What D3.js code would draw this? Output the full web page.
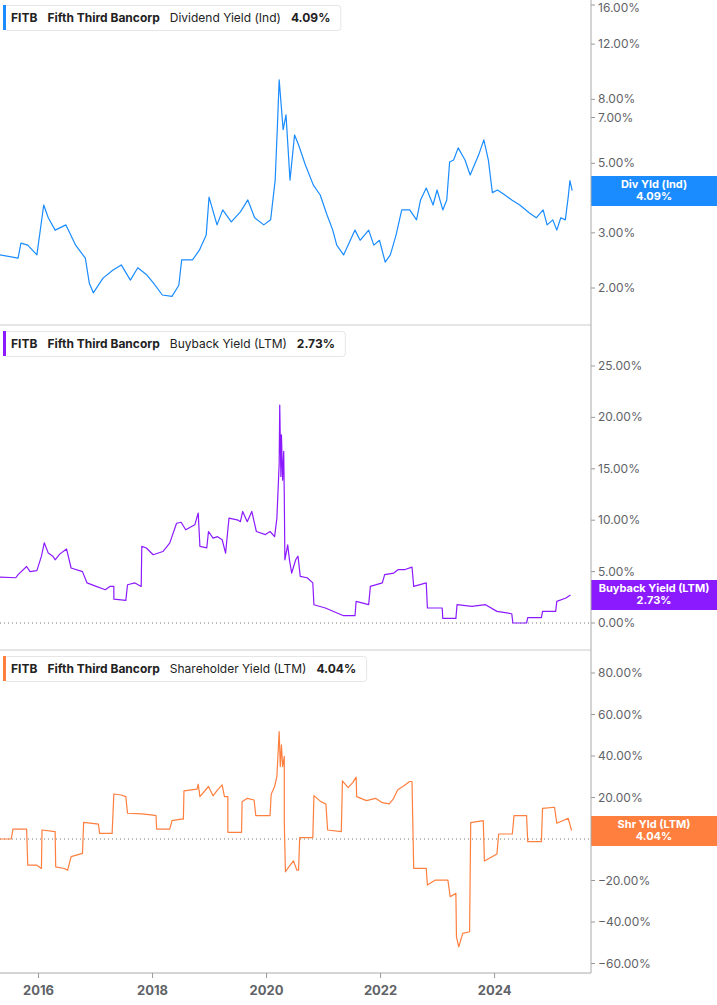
<!DOCTYPE html>
<html><head><meta charset="utf-8">
<script src="https://cdn.jsdelivr.net/npm/d3@7"></script>
<style>body{margin:0;background:#fff}svg{font-family:Inter,"Noto Sans",sans-serif}</style>
</head><body><svg id="chart" width="717" height="1005"></svg>
<script>
const yearTicks = [2016, 2018, 2020, 2022, 2024];
const divTicks = [2, 3, 5, 7, 8, 12, 16];
const buyTicks = [0, 5, 10, 15, 20, 25];
const shrTicks = [-60, -40, -20, 0, 20, 40, 60, 80];

const divYield = [
  [2015.33,2.55],[2015.65,2.49],[2015.70,2.78],[2015.82,2.74],[2015.98,2.55],[2016.10,3.68],[2016.18,3.35],
  [2016.30,3.06],[2016.49,3.18],[2016.66,2.74],[2016.83,2.49],[2016.90,2.07],[2016.97,1.93],[2017.14,2.15],
  [2017.31,2.28],[2017.46,2.37],[2017.62,2.12],[2017.75,2.32],[2017.91,2.20],[2018.03,2.07],[2018.18,1.90],
  [2018.35,1.88],[2018.47,2.04],[2018.52,2.46],[2018.71,2.46],[2018.83,2.64],[2018.95,2.95],[2019.00,3.90],
  [2019.14,3.18],[2019.24,3.55],[2019.39,3.25],[2019.55,3.50],[2019.68,3.82],[2019.80,3.35],[2019.96,3.18],
  [2020.08,3.30],[2020.16,4.42],[2020.20,6.63],[2020.23,9.23],[2020.30,6.40],[2020.35,7.14],[2020.42,4.42],
  [2020.50,6.16],[2020.57,5.73],[2020.69,4.94],[2020.83,4.26],[2020.95,3.96],[2021.07,3.42],[2021.17,3.06],
  [2021.24,2.74],[2021.36,2.55],[2021.56,3.06],[2021.65,2.84],[2021.80,3.06],[2021.89,2.74],[2021.99,2.84],
  [2022.09,2.42],[2022.18,2.55],[2022.28,2.95],[2022.38,3.55],[2022.52,3.55],[2022.64,3.30],[2022.71,3.82],
  [2022.81,4.17],[2022.93,3.68],[2023.00,4.11],[2023.10,3.55],[2023.17,3.82],[2023.22,5.05],[2023.29,5.12],
  [2023.37,5.60],[2023.49,5.12],[2023.58,4.59],[2023.73,5.32],[2023.82,5.94],[2023.90,5.12],[2023.97,4.03],
  [2024.06,4.11],[2024.19,3.96],[2024.31,3.82],[2024.45,3.68],[2024.62,3.47],[2024.74,3.35],[2024.86,3.55],
  [2024.93,3.18],[2025.03,3.30],[2025.10,3.06],[2025.17,3.35],[2025.25,3.30],[2025.30,3.90],[2025.33,4.40],
  [2025.37,4.09]
];

const buybackYield = [
  [2015.33,4.47],[2015.61,4.40],[2015.65,4.70],[2015.80,5.50],[2015.86,5.00],[2015.98,5.10],[2016.06,6.50],
  [2016.11,7.80],[2016.18,6.80],[2016.26,6.50],[2016.30,6.15],[2016.38,6.70],[2016.50,7.20],[2016.58,5.35],
  [2016.78,5.00],[2016.86,3.90],[2017.02,3.56],[2017.18,3.24],[2017.26,3.56],[2017.33,3.56],[2017.33,2.33],
  [2017.54,2.20],[2017.57,3.72],[2017.70,3.90],[2017.81,3.56],[2017.82,7.45],[2017.90,7.30],[2018.02,6.64],
  [2018.19,6.95],[2018.31,7.77],[2018.43,9.70],[2018.51,9.80],[2018.59,9.07],[2018.75,9.55],[2018.81,10.70],
  [2018.84,7.45],[2018.96,7.30],[2018.99,8.90],[2019.07,8.26],[2019.15,8.40],[2019.23,8.10],[2019.29,6.80],
  [2019.33,9.07],[2019.35,10.20],[2019.51,10.00],[2019.55,9.85],[2019.59,10.85],[2019.67,9.85],[2019.75,10.85],
  [2019.83,8.90],[2019.99,8.60],[2020.07,8.90],[2020.15,8.40],[2020.19,10.20],[2020.23,15.50],[2020.24,21.20],
  [2020.26,14.25],[2020.27,18.30],[2020.29,13.90],[2020.31,16.70],[2020.32,12.30],[2020.33,6.15],[2020.38,7.60],
  [2020.41,6.15],[2020.45,4.86],[2020.52,6.15],[2020.56,6.50],[2020.60,4.53],[2020.72,4.40],[2020.82,3.90],
  [2020.84,1.78],[2021.04,1.46],[2021.36,0.71],[2021.56,0.71],[2021.58,2.10],[2021.80,1.78],[2021.83,3.56],
  [2022.04,3.90],[2022.08,4.70],[2022.24,4.86],[2022.32,5.20],[2022.44,5.20],[2022.56,5.44],[2022.59,3.56],
  [2022.81,3.90],[2022.83,1.46],[2023.09,1.46],[2023.10,0.45],[2023.33,0.45],[2023.35,1.78],[2023.61,1.62],
  [2023.85,1.78],[2024.05,1.13],[2024.31,0.90],[2024.33,0.00],[2024.57,0.00],[2024.59,0.52],[2024.83,0.52],
  [2024.85,1.13],[2025.08,1.13],[2025.10,2.10],[2025.26,2.43],[2025.34,2.73]
];

const shareholderYield = [
  [2015.33,0.0],[2015.53,0.0],[2015.56,4.8],[2015.80,4.8],[2015.82,-12.6],[2015.98,-12.6],[2016.06,-14.2],
  [2016.07,4.35],[2016.30,3.6],[2016.31,-13.4],[2016.46,-14.2],[2016.52,-15.0],[2016.58,-8.5],[2016.78,-6.9],
  [2016.80,8.05],[2017.06,7.2],[2017.08,2.7],[2017.30,2.7],[2017.33,21.7],[2017.46,21.2],[2017.54,20.4],
  [2017.57,12.4],[2017.82,12.1],[2017.98,11.6],[2018.07,11.3],[2018.08,4.8],[2018.31,4.8],[2018.35,8.85],
  [2018.51,9.6],[2018.55,9.6],[2018.56,23.2],[2018.79,24.0],[2018.81,26.4],[2018.84,20.4],[2018.99,25.3],
  [2019.07,20.8],[2019.15,23.7],[2019.23,26.1],[2019.27,20.4],[2019.33,20.4],[2019.33,3.2],[2019.57,3.2],
  [2019.58,18.0],[2019.67,19.6],[2019.79,18.8],[2019.82,11.3],[2020.07,11.3],[2020.09,21.6],[2020.15,25.3],
  [2020.19,30.1],[2020.23,51.8],[2020.25,34.9],[2020.27,45.4],[2020.29,34.9],[2020.32,39.8],[2020.32,7.6],
  [2020.34,-15.8],[2020.40,-13.4],[2020.48,-10.5],[2020.54,-15.0],[2020.57,-15.0],[2020.59,0.64],[2020.82,0.64],
  [2020.84,20.9],[2020.96,18.0],[2021.05,16.9],[2021.08,4.35],[2021.32,3.6],[2021.34,28.0],[2021.44,24.8],
  [2021.52,27.2],[2021.58,29.8],[2021.59,20.4],[2021.76,18.5],[2021.92,19.6],[2022.04,17.5],[2022.16,16.9],
  [2022.23,19.2],[2022.31,23.7],[2022.40,25.3],[2022.52,27.7],[2022.56,27.7],[2022.59,-14.2],[2022.81,-14.2],
  [2022.83,-22.2],[2022.97,-19.8],[2023.19,-19.8],[2023.23,-27.8],[2023.33,-26.2],[2023.34,-47.2],
  [2023.38,-52.0],[2023.45,-45.5],[2023.57,-44.7],[2023.59,7.9],[2023.81,8.85],[2023.83,-10.6],[2024.05,-7.2],
  [2024.08,2.4],[2024.32,2.4],[2024.35,11.3],[2024.57,11.3],[2024.59,-1.3],[2024.83,-1.3],[2024.85,14.8],
  [2025.06,15.3],[2025.10,7.6],[2025.30,10.0],[2025.36,4.04]
];

const svg = d3.select("#chart");
const axisX = 591;
const x = d3.scaleLinear().domain([2015.333, 2025.70]).range([0, axisX]);
const grey = "#5f6368";

const panels = [
  { top: 0, bottom: 325, data: divYield, color: "#1a8cff", ticks: divTicks,
    y: d3.scaleLog().domain([2, 16]).range([288, 5]), zero: null,
    metric: "Dividend Yield (Ind)", val: "4.09%", badge: "Div Yld (Ind)", badgeY: 176 },
  { top: 326, bottom: 650, data: buybackYield, color: "#8c1aff", ticks: buyTicks,
    y: d3.scaleLinear().domain([0, 25]).range([623, 366]), zero: 0,
    metric: "Buyback Yield (LTM)", val: "2.73%", badge: "Buyback Yield (LTM)", badgeY: 580 },
  { top: 651, bottom: 973, data: shareholderYield, color: "#ff7f3f", ticks: shrTicks,
    y: d3.scaleLinear().domain([0, 80]).range([839, 673]), zero: 0,
    metric: "Shareholder Yield (LTM)", val: "4.04%", badge: "Shr Yld (LTM)", badgeY: 816 }
];

panels.forEach((p) => {
  const g = svg.append("g");

  if (p.zero !== null) {
    g.append("line")
      .attr("x1", 0).attr("x2", axisX)
      .attr("y1", p.y(p.zero)).attr("y2", p.y(p.zero))
      .attr("stroke", "#777").attr("stroke-dasharray", "1 3");
  }

  p.ticks.forEach((t) => {
    const ty = p.y(t);
    g.append("line").attr("x1", axisX).attr("x2", axisX + 4).attr("y1", ty).attr("y2", ty).attr("stroke", "#999");
    g.append("text").attr("x", axisX + 7).attr("y", Math.max(ty + 4, 12))
      .attr("font-size", 12).attr("fill", grey)
      .text(d3.format(".2f")(t) + "%");
  });

  const line = d3.line().x((d) => x(d[0])).y((d) => p.y(d[1]));
  g.append("path").datum(p.data)
    .attr("fill", "none").attr("stroke", p.color).attr("stroke-width", 1.2)
    .attr("stroke-linejoin", "round").attr("d", line);

  if (p.bottom < 973) {
    g.append("line").attr("x1", 0).attr("x2", axisX).attr("y1", p.bottom).attr("y2", p.bottom).attr("stroke", "#ccc");
  }

  // header box
  const hy = p.top + 5;
  const head = g.append("g");
  const parts = [
    { t: "FITB", w: 700 }, { t: "Fifth Third Bancorp", w: 700 },
    { t: p.metric, w: 400 }, { t: p.val, w: 700 }
  ];
  let cx = 11;
  parts.forEach((pt) => {
    const tx = head.append("text").attr("x", cx).attr("y", hy + 17)
      .attr("font-size", 12).attr("font-weight", pt.w).attr("fill", "#222").text(pt.t);
    cx += tx.node().getComputedTextLength() + 10;
  });
  head.insert("rect", "text").attr("x", 3.5).attr("y", hy + 0.5).attr("width", cx - 3).attr("height", 25)
    .attr("rx", 3).attr("fill", "#fff").attr("stroke", "#e6e6e6");
  head.append("rect").attr("x", 3).attr("y", hy).attr("width", 3).attr("height", 25).attr("fill", p.color);

  // value badge
  g.append("rect").attr("x", axisX).attr("y", p.badgeY).attr("width", 717 - axisX).attr("height", 30).attr("fill", p.color);
  g.append("text").attr("x", 654).attr("y", p.badgeY + 12).attr("text-anchor", "middle")
    .attr("font-size", 11).attr("font-weight", 700).attr("fill", "#fff").text(p.badge);
  g.append("text").attr("x", 654).attr("y", p.badgeY + 24).attr("text-anchor", "middle")
    .attr("font-size", 11).attr("font-weight", 700).attr("fill", "#fff").text(p.val);
});

svg.append("line").attr("x1", axisX).attr("x2", axisX).attr("y1", 0).attr("y2", 973).attr("stroke", "#aaa");

svg.append("g")
  .attr("transform", "translate(0,973)")
  .call(d3.axisBottom(x).tickValues(yearTicks).tickFormat(d3.format("d")).tickSize(5).tickPadding(8))
  .call((a) => a.select(".domain").attr("d", `M0,0H${axisX}`).attr("stroke", "#aaa"))
  .call((a) => a.selectAll(".tick line").attr("stroke", "#999"))
  .call((a) => a.selectAll("text").attr("font-size", 13).attr("font-weight", 700)
    .attr("fill", grey).attr("font-family", "Inter, sans-serif"));
</script></body></html>
